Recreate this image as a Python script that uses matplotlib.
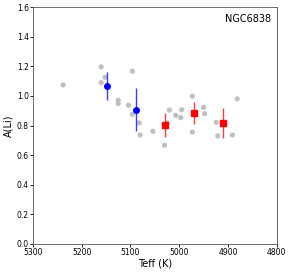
import numpy as np
import matplotlib
matplotlib.use('Agg')
import matplotlib.pyplot as plt

# Gray comparison stars
teff_gray = [5238, 5160, 5152, 5160, 5125, 5125, 5096, 5104, 5096, 5082, 5080,
             5054, 5030, 5025, 5020, 5007, 4997, 4995, 4973, 4973, 4950, 4948,
             4924, 4921, 4891, 4881]
ali_gray = [1.074, 1.196, 1.126, 1.09, 0.971, 0.948, 1.167, 0.937, 0.876, 0.818, 0.736,
            0.761, 0.667, 0.818, 0.905, 0.869, 0.853, 0.907, 0.998, 0.755, 0.923, 0.88,
            0.822, 0.730, 0.736, 0.98]

# Blue circles with error bars
teff_blue = [5148, 5089]
ali_blue = [1.066, 0.907]
err_blue = [0.095, 0.145]

# Red squares with error bars
teff_red = [5030, 4970, 4910]
ali_red = [0.804, 0.887, 0.818]
err_red = [0.083, 0.075, 0.1]

fig = plt.figure(figsize=(2.91, 2.72), dpi=100)
ax = fig.add_axes([0.113, 0.103, 0.838, 0.871])

ax.scatter(teff_gray, ali_gray, s=14, color='#c0c0c0', edgecolors='none', zorder=1)
ax.errorbar(teff_blue, ali_blue, yerr=err_blue, fmt='o', color='blue', ms=4,
            ecolor='#3a3aff', elinewidth=1, capsize=0, zorder=3)
ax.errorbar(teff_red, ali_red, yerr=err_red, fmt='s', color='red', ms=4,
            ecolor='#ff3a3a', elinewidth=1, capsize=0, zorder=3)

ax.set_xlim(5300, 4800)
ax.set_ylim(0.0, 1.6)
ax.set_xticks([5300, 5200, 5100, 5000, 4900, 4800])
ax.set_yticks(np.arange(0, 1.61, 0.2))
ax.tick_params(labelsize=5.5, length=2, width=0.6, pad=1)
ax.set_xlabel('Teff (K)', fontsize=7, labelpad=1)
ax.set_ylabel('A(Li)', fontsize=7, labelpad=2)
for sp in ax.spines.values():
    sp.set_linewidth(0.6)
    sp.set_color('#555555')
ax.text(0.975, 0.95, 'NGC6838', transform=ax.transAxes, ha='right', va='center', fontsize=7)

fig.savefig('out.png', dpi=100)
